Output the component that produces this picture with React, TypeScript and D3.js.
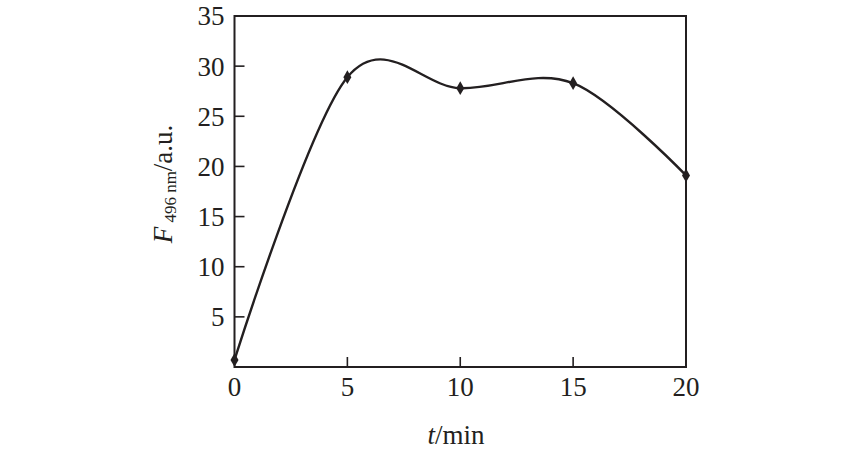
import React from "react";
import * as d3 from "d3";

const times = [0, 5, 10, 15, 20];
const values = [0.7, 28.9, 27.8, 28.3, 19.1];
const xTicks = [0, 5, 10, 15, 20];
const yTicks = [5, 10, 15, 20, 25, 30, 35];

const W = 850;
const H = 462;
const margin = { left: 234.5, right: 164, top: 16, bottom: 95 };

export default function App() {
  const x = d3.scaleLinear().domain([0, 20]).range([margin.left, W - margin.right]);
  const y = d3.scaleLinear().domain([0, 35]).range([H - margin.bottom, margin.top]);
  const pts: [number, number][] = times.map((t, i) => [x(t), y(values[i])]);
  const line = d3.line().curve(d3.curveCardinal.tension(0))(pts) || "";
  const col = "#231f20";
  const font = "'Liberation Serif', 'Times New Roman', Times, serif";
  const x0 = x(0), x1 = x(20), y0 = y(0), y1 = y(35);
  const diamond = d3.symbol().type(d3.symbolDiamond).size(55)() || "";
  return (
    <div style={{ position: "fixed", left: 0, top: 0 }}>
      <svg width={W} height={H} style={{ display: "block", background: "#fff" }}>
        <rect x={x0} y={y1} width={x1 - x0} height={y0 - y1} fill="none" stroke={col} strokeWidth={2} />
        {yTicks.map((t) => (
          <g key={"y" + t}>
            {t !== 35 && <line x1={x0} x2={x0 + 10} y1={y(t)} y2={y(t)} stroke={col} strokeWidth={1.6} />}
            <text x={x0 - 10} y={y(t)} dy="0.35em" textAnchor="end" fontFamily={font} fontSize={27} fill={col}>
              {t}
            </text>
          </g>
        ))}
        {xTicks.map((t) => (
          <g key={"x" + t}>
            {t !== 0 && t !== 20 && (
              <line x1={x(t)} x2={x(t)} y1={y0} y2={y0 - 10} stroke={col} strokeWidth={1.6} />
            )}
            <text x={x(t)} y={y0 + 29} textAnchor="middle" fontFamily={font} fontSize={27} fill={col}>
              {t}
            </text>
          </g>
        ))}
        <path d={line} fill="none" stroke={col} strokeWidth={2.4} />
        {pts.map((p, i) => (
          <path key={i} d={diamond} transform={`translate(${p[0]},${p[1]})`} fill={col} />
        ))}
        <text x={456} y={444} textAnchor="middle" fontFamily={font} fontSize={27} fill={col}>
          <tspan fontStyle="italic">t</tspan>
          <tspan>/min</tspan>
        </text>
        <text
          transform={`translate(172, 184) rotate(-90)`}
          textAnchor="middle"
          fontFamily={font}
          fontSize={27}
          fill={col}
        >
          <tspan fontStyle="italic">F</tspan>
          <tspan fontSize={17} dy={4}> 496 nm</tspan>
          <tspan dy={-4}>/a.u.</tspan>
        </text>
      </svg>
    </div>
  );
}
